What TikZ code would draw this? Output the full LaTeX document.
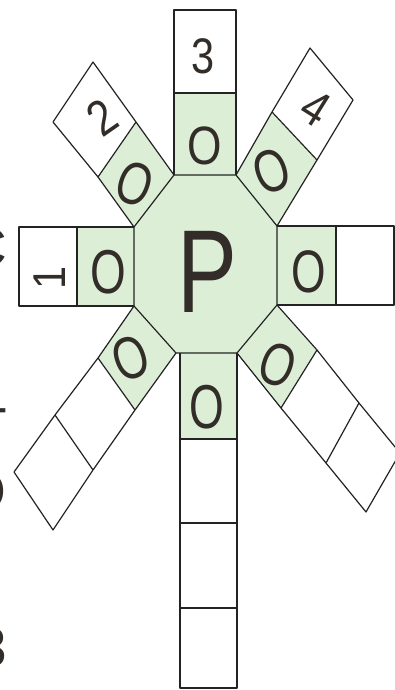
\documentclass[tikz,border=0pt]{standalone}
\usepackage{graphicx}
\usepackage{fontspec}
\setmainfont{Liberation Sans}
\definecolor{pgreen}{RGB}{220,239,214}
\definecolor{ink}{RGB}{35,35,35}
\definecolor{txt}{RGB}{50,45,40}
\begin{document}
\begin{tikzpicture}[x=1pt,y=-1pt,line join=round,
  cell/.style={draw=ink,line width=1.2pt},
  gcell/.style={fill=pgreen},
  lab/.style={inner sep=0pt,text=txt,font=\fontsize{#1}{#1}\selectfont}]
\useasboundingbox (0,0) rectangle (395,690);
\fill[white] (0,0) rectangle (395,690);
\clip (0,0) rectangle (395,690);
% octagon
\coordinate (o1) at (174,175); \coordinate (o2) at (236,175);
\coordinate (o3) at (277,226); \coordinate (o4) at (277,305);
\coordinate (o5) at (237,353); \coordinate (o6) at (176,353);
\coordinate (o7) at (134,306); \coordinate (o8) at (134,227);
% top arm
\coordinate (t1) at (174,93); \coordinate (t2) at (236,93);
\coordinate (t3) at (174,10); \coordinate (t4) at (236,10);
% left arm
\coordinate (l1) at (77,227); \coordinate (l2) at (77,306);
\coordinate (l3) at (19,227); \coordinate (l4) at (19,306);
% right arm
\coordinate (r1) at (336,226); \coordinate (r2) at (336,305);
\coordinate (r3) at (394,226); \coordinate (r4) at (394,305);
% bottom arm
\coordinate (b0l) at (180,353); \coordinate (b0r) at (237,353);
\coordinate (b1l) at (180,439); \coordinate (b1r) at (237,439);
\coordinate (b2l) at (180,523); \coordinate (b2r) at (237,523);
\coordinate (b3l) at (180,608); \coordinate (b3r) at (237,608);
\coordinate (b4l) at (180,688); \coordinate (b4r) at (237,688);
% top-left arm
\coordinate (tl1) at (136,122); \coordinate (tl2) at (98,177);
\coordinate (tl3) at (93,62);   \coordinate (tl4) at (53,122);
% top-right arm
\coordinate (tr1) at (272,112); \coordinate (tr2) at (317,160);
\coordinate (tr3) at (310,48);  \coordinate (tr4) at (353,100);
% bottom-left arm
\coordinate (bl1) at (98,358);  \coordinate (bl2) at (135,410);
\coordinate (bl3) at (55,415);  \coordinate (bl4) at (93,470);
\coordinate (bl5) at (14,472);  \coordinate (bl6) at (53,530);
% bottom-right arm
\coordinate (br1) at (317,350); \coordinate (br2) at (281,408);
\coordinate (br3) at (359,403); \coordinate (br4) at (326,463);
\coordinate (br5) at (400,453); \coordinate (br6) at (366,512);

% green fills
\fill[gcell] (o1)--(o2)--(o3)--(o4)--(o5)--(o6)--(o7)--(o8)--cycle;
\fill[gcell] (o1)--(t1)--(t2)--(o2)--cycle;
\fill[gcell] (o8)--(l1)--(l2)--(o7)--cycle;
\fill[gcell] (o3)--(r1)--(r2)--(o4)--cycle;
\fill[gcell] (b0l)--(b1l)--(b1r)--(b0r)--cycle;
\fill[gcell] (o1)--(tl1)--(tl2)--(o8)--cycle;
\fill[gcell] (o2)--(tr1)--(tr2)--(o3)--cycle;
\fill[gcell] (o7)--(bl1)--(bl2)--(o6)--cycle;
\fill[gcell] (o4)--(br1)--(br2)--(o5)--cycle;

% outlines
\draw[cell] (o1)--(o2)--(o3)--(o4)--(o5)--(o6)--(o7)--(o8)--cycle;
\draw[cell] (o1)--(t3)--(t4)--(o2) (t1)--(t2);
\draw[cell] (o8)--(l3)--(l4)--(o7) (l1)--(l2);
\draw[cell] (o3)--(r3)--(r4)--(o4) (r1)--(r2);
\draw[cell] (b0l)--(b4l)--(b4r)--(b0r) (b1l)--(b1r) (b2l)--(b2r) (b3l)--(b3r);
\draw[cell] (o1)--(tl1)--(tl3)--(tl4)--(tl2)--(o8) (tl1)--(tl2);
\draw[cell] (o2)--(tr1)--(tr3)--(tr4)--(tr2)--(o3) (tr1)--(tr2);
\draw[cell] (o7)--(bl1)--(bl3)--(bl5)--(bl6)--(bl4)--(bl2)--(o6) (bl1)--(bl2) (bl3)--(bl4);
\draw[cell] (o4)--(br1)--(br3)--(br5)--(br6)--(br4)--(br2)--(o5) (br1)--(br2) (br3)--(br4);

% letters
\node[lab=118pt] (P) at (207,272) {\scalebox{0.76}[1]{P}};
\node[lab=50pt] (n3) at (203,56) {\scalebox{0.83}[1]{3}};
\node[lab=54pt] (oT) at (205,146) {\scalebox{0.82}[1]{O}};
\node[lab=62pt] (oL) at (108,272) {\scalebox{0.74}[1]{O}};
\node[lab=46pt,rotate=90] (n1) at (50,278) {\scalebox{0.9}[1]{1}};
\node[lab=60pt] (oR) at (309,272) {\scalebox{0.74}[1]{O}};
\node[lab=62pt] (oB) at (207,407) {\scalebox{0.72}[1]{O}};
\node[lab=60pt,rotate=-20] (oTL) at (135,184) {\scalebox{0.74}[1]{O}};
\node[lab=50pt,rotate=35] (n2) at (102,117) {\scalebox{0.85}[1]{2}};
\node[lab=60pt,rotate=20] (oTR) at (272,171) {\scalebox{0.74}[1]{O}};
\node[lab=50pt,rotate=-32] (n4) at (316,108) {\scalebox{0.85}[1]{4}};
\node[lab=60pt,rotate=20] (oBL) at (131,358) {\scalebox{0.74}[1]{O}};
\node[lab=60pt,rotate=-20] (oBR) at (278,365) {\scalebox{0.74}[1]{O}};

% cut-off letters at the left edge
\begin{scope}
\clip (0,0) rectangle (6,690);
\node[lab=55pt,anchor=east] (fC) at (7,248) {C};
\node[lab=55pt,anchor=north east] (fT) at (7,408) {T};
\node[lab=55pt,anchor=east] (fO) at (6,492) {O};
\node[lab=55pt,anchor=east] (f3) at (7,648) {3};
\end{scope}
\end{tikzpicture}
\end{document}
